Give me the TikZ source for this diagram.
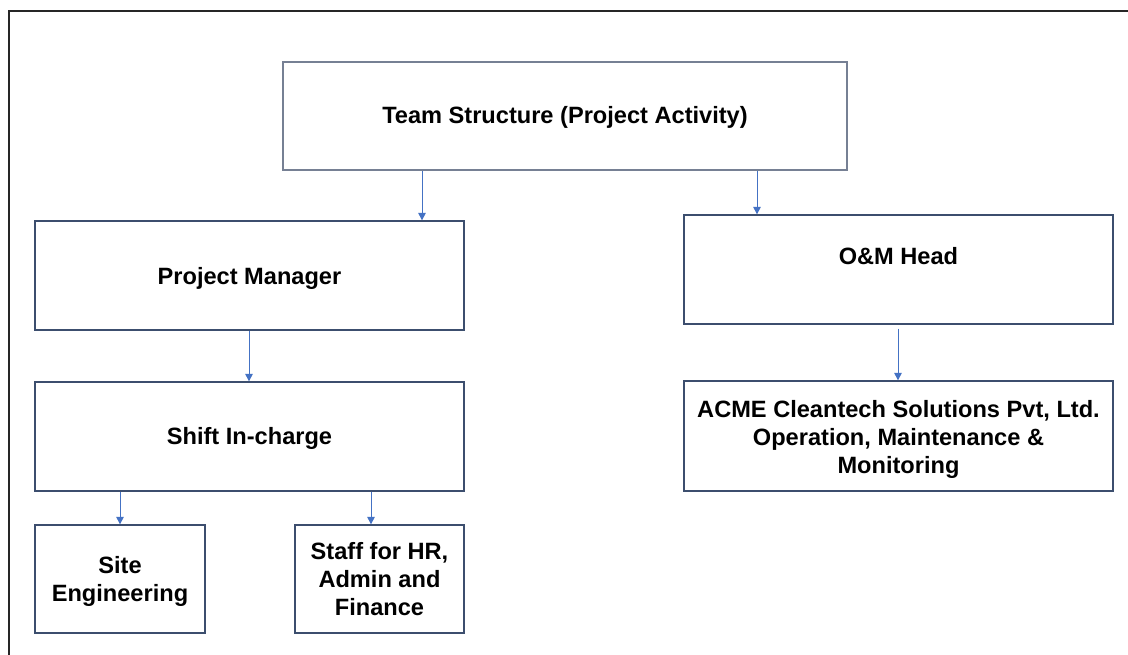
\documentclass[tikz,border=0pt]{standalone}
\usepackage{fontspec}
\setmainfont{Liberation Sans}
\usetikzlibrary{arrows.meta}
\definecolor{boxline}{RGB}{60,78,110}
\definecolor{topline}{RGB}{118,128,148}
\definecolor{arrowblue}{RGB}{68,114,196}
\newcommand{\mystrut}[1][23.5pt]{\rule{0pt}{#1}}
\tikzset{
  box/.style={draw=boxline, line width=1.3pt, fill=white, align=center,
    font=\fontsize{23.6}{28}\selectfont\bfseries, inner sep=0pt},
  arr/.style={draw=arrowblue, line width=1pt, -{Triangle[width=7.5pt,length=7.5pt]}},
}
\begin{document}
\begin{tikzpicture}[x=1pt,y=-1pt]
\useasboundingbox (0,0) rectangle (1128,654);
\fill[white] (0,0) rectangle (1128,654);
% outer frame
\draw[line width=2pt, black!85] (9,660) -- (9,11) -- (1135,11);

\node[box, draw=topline, minimum width=564pt, minimum height=108pt] (top) at (565,116) {\mystrut[19.5pt]Team Structure (Project Activity)};
\node[box, minimum width=429pt, minimum height=109pt] (pm) at (249.5,275.5) {\mystrut Project Manager};
\node[box, minimum width=429pt, minimum height=109pt, text height=17pt, text depth=27pt] (omh) at (898.5,269.5) {O\&M Head};
\node[box, minimum width=429pt, minimum height=109pt] (sic) at (249.5,436.5) {\mystrut[21.5pt]Shift In-charge};
\node[box, minimum width=429pt, minimum height=110pt] (acme) at (898.5,436) {\mystrut[23.5pt]ACME Cleantech Solutions Pvt, Ltd.\\Operation, Maintenance \&\\Monitoring};
\node[box, minimum width=170pt, minimum height=108pt] (site) at (120,579) {\mystrut[21.5pt]Site\\Engineering};
\node[box, minimum width=169pt, minimum height=108pt] (staff) at (379.5,579) {Staff for HR,\\Admin and\\Finance};

\coordinate (x1) at (422,0);
\coordinate (x2) at (757,0);
\coordinate (x3) at (249,0);
\coordinate (x4) at (898,0);
\coordinate (x5) at (120,0);
\coordinate (x6) at (371,0);

\draw[arr] (top.south -| x1) -- (pm.north -| x1);
\draw[arr] (top.south -| x2) -- (omh.north -| x2);
\draw[arr] (pm.south -| x3) -- (sic.north -| x3);
\draw[arr, shorten <=4pt] (omh.south -| x4) -- (acme.north -| x4);
\draw[arr] (sic.south -| x5) -- (site.north -| x5);
\draw[arr] (sic.south -| x6) -- (staff.north -| x6);
\end{tikzpicture}
\end{document}
